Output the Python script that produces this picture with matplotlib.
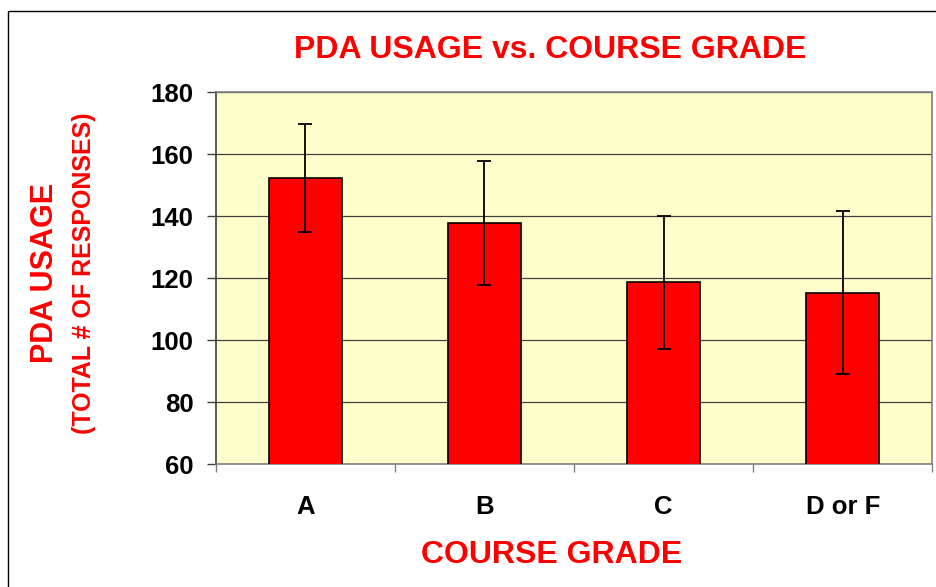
import numpy as np
import matplotlib
matplotlib.use("Agg")
import matplotlib.pyplot as plt
from matplotlib.patches import Rectangle

# values
grades = ["A", "B", "C", "D or F"]
usage = [152.3, 137.8, 118.6, 115.3]
usage_err = [17.5, 20.0, 21.4, 26.3]
y_ticks = [60, 80, 100, 120, 140, 160, 180]

plt.rcParams['font.family'] = ['Liberation Sans', 'DejaVu Sans']
plt.rcParams['font.weight'] = 'bold'

fig = plt.figure(figsize=(9.36, 5.87), dpi=100)
ax = fig.add_axes([215.7 / 936, 1 - 464.3 / 587, (932.3 - 215.7) / 936, (464.3 - 92) / 587])

# outer frame of the chart (right and bottom edges are cut off in the original)
fig.patches.append(Rectangle((8 / 936, -0.1), 1.2, 1.1 - 11 / 587, transform=fig.transFigure,
                             fill=False, edgecolor='black', linewidth=1.0))

ax.set_facecolor('#FFFFCC')
x = np.arange(len(grades))
ax.bar(x, usage, width=0.41, color='#FF0000', edgecolor='black', linewidth=1.2, zorder=3)
ax.errorbar(x, usage, yerr=usage_err, fmt='none', ecolor='black', elinewidth=1.3,
            capsize=5, capthick=1.3, zorder=4)

ax.set_ylim(60, 180)
ax.set_xlim(-0.5, len(grades) - 0.5)
ax.set_yticks(y_ticks)
ax.yaxis.grid(True, color='#404040', linewidth=0.9, zorder=1)
ax.tick_params(axis='y', length=6.5, width=1, color='#404040', labelsize=18.5, pad=9.5)

# category boundaries carry the tick marks, labels sit in the middle
ax.set_xticks(np.arange(len(grades) + 1) - 0.5)
ax.set_xticklabels([])
ax.set_xticks(x, minor=True)
ax.set_xticklabels(grades, minor=True)
ax.tick_params(axis='x', which='major', length=6, width=1, color='#808080')
ax.tick_params(axis='x', which='minor', length=0, labelsize=18.5, pad=22)

for side in ['top', 'right']:
    ax.spines[side].set_color('#808080')
ax.spines['left'].set_color('#404040')
ax.spines['bottom'].set_color('#808080')
for s in ax.spines.values():
    s.set_linewidth(1.2)

fig.text(550 / 936, 1 - 50.5 / 587, "PDA USAGE vs. COURSE GRADE", color='#FF0000',
         fontsize=23, fontweight='bold', ha='center', va='center')
fig.text(552 / 936, 1 - 555 / 587, "COURSE GRADE", color='#FF0000',
         fontsize=23, fontweight='bold', ha='center', va='center')
fig.text(45 / 936, 1 - 272.5 / 587, "PDA USAGE", color='#FF0000', rotation=90,
         fontsize=22, fontweight='bold', ha='center', va='center')
fig.text(84 / 936, 1 - 273 / 587, "(TOTAL # OF RESPONSES)", color='#FF0000', rotation=90,
         fontsize=18, fontweight='bold', ha='center', va='center')

fig.savefig("out.png", dpi=100)
